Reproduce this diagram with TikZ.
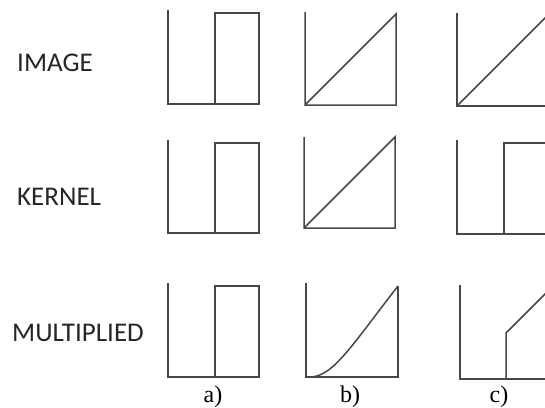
\documentclass[tikz,border=0pt]{standalone}
\usepackage{fontspec}
\setmainfont{Liberation Serif}
\newfontfamily\rowfont{Carlito}
\usetikzlibrary{positioning}

\begin{document}
\begin{tikzpicture}[x=1pt, y=-1pt,
  ax/.style={line width=1.5pt, black!72, line join=miter},
  rowlab/.style={anchor=west, font=\rowfont\fontsize{27}{27}\selectfont, text=black!85, inner sep=0pt},
  sublab/.style={font=\fontsize{24}{24}\selectfont, inner sep=0pt}
]
\useasboundingbox (0,0) rectangle (545,407);
\clip (0,0) rectangle (545,407);

% Row labels
\node[rowlab] (image) at (17,63) {IMAGE};
\node[rowlab] (kernel) at (17,197) {KERNEL};
\node[rowlab] (mult) at (12,333) {MULTIPLIED};

% Row IMAGE
\draw[ax] (168,10) -- (168,104) -- (259,104) -- (259,13) -- (215,13) -- (215,104);
\draw[ax] (305,12) -- (305,105) -- (396,105) -- (396,14) -- (305,105);
\draw[ax] (457,13) -- (457,106) -- (550,106);
\draw[ax] (457,106) -- (551,12);

% Row KERNEL
\draw[ax] (168,140) -- (168,233) -- (259,233) -- (259,143) -- (215,143) -- (215,233);
\draw[ax] (304,137) -- (304,228) -- (395,228) -- (395,137) -- (304,228);
\draw[ax] (457,140) -- (457,234) -- (550,234);
\draw[ax] (504,234) -- (504,143) -- (550,143);

% Row MULTIPLIED
\draw[ax] (168,283) -- (168,377) -- (259,377) -- (259,286) -- (215,286) -- (215,377);
\draw[ax] (306,283) -- (306,377) -- (398,377) -- (398,286);
\draw[ax] (310,377) .. controls (333,377) and (352,345) .. (398,286);
\draw[ax] (460,285) -- (460,379) -- (550,379);
\draw[ax] (506,379) -- (506,333) -- (553,286);

% Column labels
\node[sublab] (la) at (213,397) {a)};
\node[sublab] (lb) at (350,397) {b)};
\node[sublab] (lc) at (499,397) {c)};

\end{tikzpicture}
\end{document}
